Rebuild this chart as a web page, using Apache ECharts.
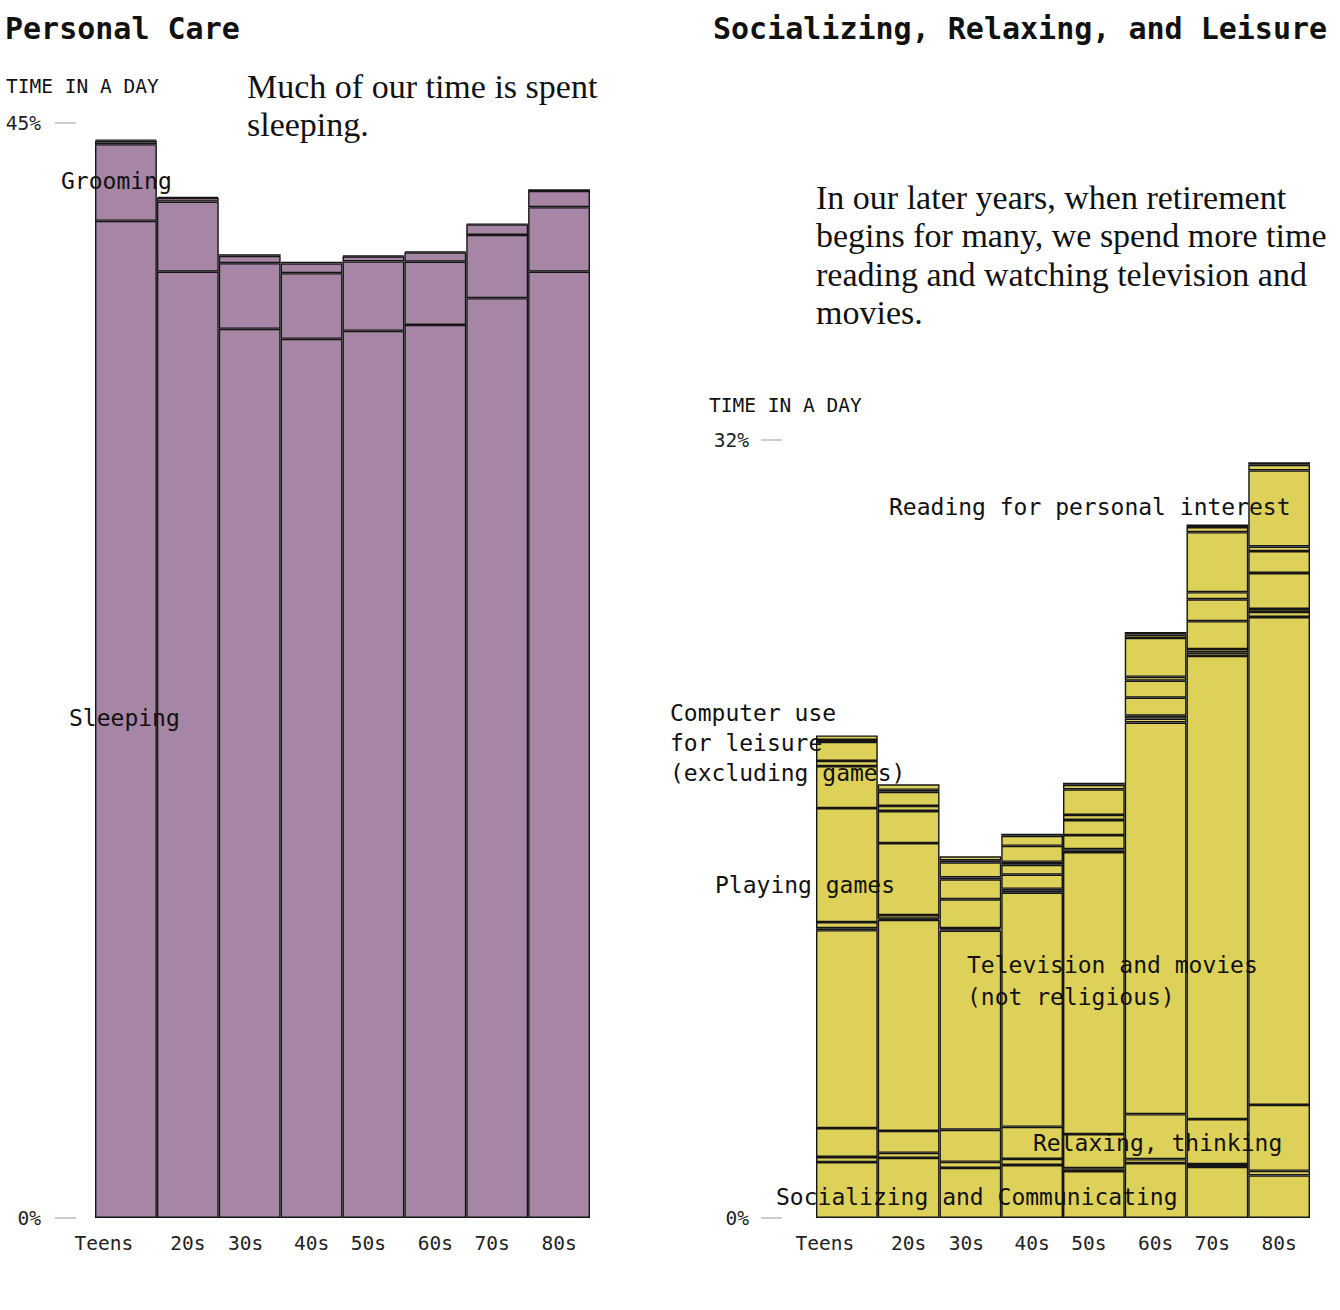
<!DOCTYPE html>
<html>
<head>
<meta charset="utf-8">
<script src="https://cdn.jsdelivr.net/npm/echarts@6/dist/echarts.min.js"></script>
<style>
html,body{margin:0;padding:0;background:#fff;}
#chart{width:1340px;height:1310px;}
</style>
</head>
<body>
<div id="chart"></div>
<script>
// ---------- DATA ----------
const ageGroups = ['Teens', '20s', '30s', '40s', '50s', '60s', '70s', '80s'];

// Personal Care (% of a day)
const sleeping      = [40.98, 38.89, 36.54, 36.13, 36.46, 36.70, 37.80, 38.89];
const grooming      = [3.15, 2.88, 2.70, 2.70, 2.85, 2.60, 2.60, 2.65];
const healthCare    = [0.14, 0.15, 0.30, 0.40, 0.21, 0.38, 0.43, 0.67];
const personalOther = [0.05, 0.05, 0.07, 0.07, 0.04, 0.04, 0.03, 0.07];

// Socializing, Relaxing, and Leisure (% of a day)
const socializing  = [2.30, 2.47, 2.06, 2.18, 1.93, 2.26, 2.10, 1.75];
const socialEvents = [0.21, 0.21, 0.25, 0.25, 0.12, 0.16, 0.12, 0.19];
const relaxing     = [1.19, 0.90, 1.32, 1.32, 1.40, 1.85, 1.85, 2.71];
const television   = [8.14, 8.68, 8.19, 9.63, 11.60, 16.11, 19.05, 20.07];
const tvReligious  = [0.08, 0.05, 0.05, 0.08, 0.06, 0.16, 0.14, 0.21];
const radio        = [0.25, 0.15, 0.05, 0.08, 0.06, 0.12, 0.14, 0.12];
const games        = [4.69, 2.96, 1.19, 0.58, 0.58, 0.74, 1.15, 1.48];
const computer     = [1.73, 1.32, 0.82, 0.41, 0.62, 0.70, 0.90, 0.90];
const music        = [0.21, 0.21, 0.08, 0.12, 0.21, 0.16, 0.29, 0.19];
const reading      = [0.78, 0.58, 0.62, 0.66, 1.05, 1.60, 2.47, 3.13];
const writing      = [0.08, 0.08, 0.08, 0.41, 0.19, 0.14, 0.21, 0.23];
const otherLeisure = [0.19, 0.23, 0.17, 0.08, 0.08, 0.10, 0.10, 0.10];

const personalMax = 45;
const leisureMax = 32;

// ---------- STYLE ----------
const MONO = '"DejaVu Sans Mono", "Liberation Mono", monospace';
const SERIF = '"Liberation Serif", "DejaVu Serif", serif';
const PURPLE = '#a685a5';
const YELLOW = '#ddd15a';
const EDGE = '#151515';

const chart = echarts.init(document.getElementById('chart'), null, {renderer: 'svg'});

const shift = {Teens: 44, '30s': 8, '50s': 10, '70s': 10};
function xAxisCfg(gridIndex) {
  const rich = {};
  ageGroups.forEach((g, i) => {
    rich['c' + i] = {
      fontFamily: MONO, fontSize: 19.5, color: '#222',
      padding: [0, shift[g] || 0, 0, 0]
    };
  });
  return {
    type: 'category', gridIndex, data: ageGroups,
    axisLine: {show: false}, axisTick: {show: false},
    axisLabel: {
      margin: 15, interval: 0,
      formatter: (v, i) => '{c' + i + '|' + v + '}',
      rich
    }
  };
}
function yAxisCfg(gridIndex, max, offset, margin) {
  return {
    type: 'value', gridIndex, min: 0, max, interval: max,
    offset,
    axisLine: {show: false},
    axisTick: {show: true, length: 21, lineStyle: {color: '#bbb', width: 1.5}},
    splitLine: {show: false},
    axisLabel: {
      margin, fontFamily: MONO, fontSize: 19.5, color: '#222',
      formatter: '{value}%'
    }
  };
}
function barSeries(name, data, idx, stack, color) {
  return {
    type: 'bar', name, data, xAxisIndex: idx, yAxisIndex: idx, stack,
    barCategoryGap: '0%', barGap: '0%',
    itemStyle: {color, borderColor: EDGE, borderWidth: 1.4},
    emphasis: {disabled: true}, silent: true
  };
}

const monoText = (text, x, y, extra) => ({
  type: 'text', x, y, z: 100,
  style: Object.assign({
    text, fontFamily: MONO, fontSize: 23, fill: '#111',
    align: 'left', verticalAlign: 'middle'
  }, extra || {})
});

const option = {
  animation: false,
  backgroundColor: '#fff',
  title: [
    {text: 'Personal Care', left: 0, top: 8,
      textStyle: {fontFamily: MONO, fontWeight: 'bold', fontSize: 30, color: '#111'}},
    {text: 'Socializing, Relaxing, and Leisure', left: 708, top: 8,
      textStyle: {fontFamily: MONO, fontWeight: 'bold', fontSize: 30, color: '#111'}}
  ],
  grid: [
    {left: 95, top: 123, width: 495, height: 1095},
    {left: 816, top: 440, width: 494, height: 778}
  ],
  xAxis: [xAxisCfg(0), xAxisCfg(1)],
  yAxis: [yAxisCfg(0, personalMax, 19, 35), yAxisCfg(1, leisureMax, 34, 33)],
  series: [
    barSeries('Sleeping', sleeping, 0, 'pc', PURPLE),
    barSeries('Grooming', grooming, 0, 'pc', PURPLE),
    barSeries('Health-related self care', healthCare, 0, 'pc', PURPLE),
    barSeries('Personal activities', personalOther, 0, 'pc', PURPLE),

    barSeries('Socializing and Communicating', socializing, 1, 'sl', YELLOW),
    barSeries('Attending or hosting social events', socialEvents, 1, 'sl', YELLOW),
    barSeries('Relaxing, thinking', relaxing, 1, 'sl', YELLOW),
    barSeries('Television and movies (not religious)', television, 1, 'sl', YELLOW),
    barSeries('Television (religious)', tvReligious, 1, 'sl', YELLOW),
    barSeries('Listening to the radio', radio, 1, 'sl', YELLOW),
    barSeries('Playing games', games, 1, 'sl', YELLOW),
    barSeries('Computer use for leisure (excluding games)', computer, 1, 'sl', YELLOW),
    barSeries('Listening to or playing music', music, 1, 'sl', YELLOW),
    barSeries('Reading for personal interest', reading, 1, 'sl', YELLOW),
    barSeries('Writing for personal interest', writing, 1, 'sl', YELLOW),
    barSeries('Other leisure', otherLeisure, 1, 'sl', YELLOW)
  ],
  graphic: [
    monoText('TIME IN A DAY', 6, 86, {fontSize: 19.5}),
    monoText('TIME IN A DAY', 709, 405, {fontSize: 19.5}),
    {type: 'text', x: 247, y: 105, z: 100, style: {
      text: 'Much of our time is spent\nsleeping.', fontFamily: SERIF, fontSize: 34,
      lineHeight: 38, fill: '#111', align: 'left', verticalAlign: 'middle'}},
    {type: 'text', x: 816, y: 255, z: 100, style: {
      text: 'In our later years, when retirement\nbegins for many, we spend more time\nreading and watching television and\nmovies.',
      fontFamily: SERIF, fontSize: 34, lineHeight: 38.5, fill: '#111',
      align: 'left', verticalAlign: 'middle'}},
    monoText('Grooming', 61, 181),
    monoText('Sleeping', 69, 718),
    monoText('Reading for personal interest', 889, 507),
    monoText('Computer use\nfor leisure\n(excluding games)', 670, 743, {lineHeight: 30}),
    monoText('Playing games', 715, 885),
    monoText('Television and movies\n(not religious)', 967, 981, {lineHeight: 32}),
    monoText('Relaxing, thinking', 1033, 1143),
    monoText('Socializing and Communicating', 776, 1197)
  ]
};
chart.setOption(option);
</script>
</body>
</html>
